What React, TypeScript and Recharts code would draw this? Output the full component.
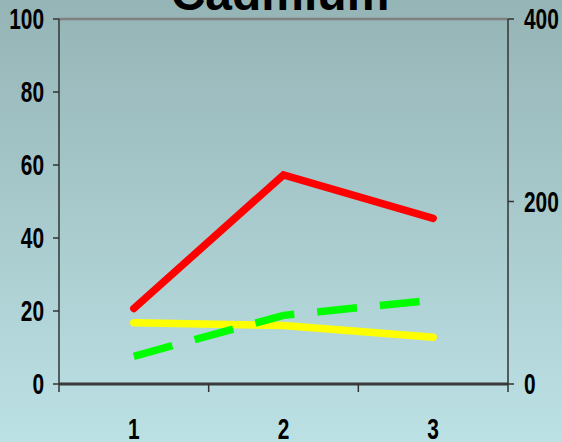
import React from "react";
import { LineChart, Line, XAxis, YAxis, ReferenceLine } from "recharts";

const categories = [1, 2, 3];
const red = [20.7, 57.3, 45.4];
const yellow = [16.8, 16, 12.8];
const green = [7.6, 18.8, 23];
const leftTicks = [0, 20, 40, 60, 80, 100];
const rightTicks = [0, 200, 400];
const xTicks = [0.5, 1, 1.5, 2, 2.5, 3, 3.5];

const data = categories.map((c, i) => ({
  cat: c,
  red: red[i],
  yellow: yellow[i],
  green: green[i],
}));

const font = "'Liberation Sans', Arial, sans-serif";

// condensed bold digits like the original
const Label = ({ x, y, anchor, value }: any) => (
  <g transform={`translate(${x},${y})`}>
    <text transform="scale(0.72,1)" textAnchor={anchor} dy="0.36em" fontFamily={font} fontWeight="bold" fontSize={29} fill="#000">
      {value}
    </text>
  </g>
);

const XTick = (props: any) => {
  const { x, y, payload } = props;
  const v = payload.value;
  if (Number.isInteger(v)) return <Label x={x} y={y + 45} anchor="middle" value={v} />;
  return <line x1={x} y1={y} x2={x} y2={y + 8} stroke="#333" strokeWidth={1.5} />;
};

const LeftTick = (props: any) => <Label x={props.x} y={props.y} anchor="end" value={props.payload.value} />;
const RightTick = (props: any) => <Label x={props.x} y={props.y} anchor="start" value={props.payload.value} />;

export default function App() {
  return (
    <div
      style={{
        position: "absolute",
        left: 0,
        top: 0,
        width: 562,
        height: 442,
        overflow: "hidden",
        background: "linear-gradient(to bottom, #95b4b6, #bce1e5)",
      }}
    >
      <svg width={562} height={442} style={{ position: "absolute", left: 0, top: 0 }}>
        <text x={280} y={10} textAnchor="middle" fontFamily={font} fontWeight="bold" fontSize={48} fill="#000">
          Cadmium
        </text>
      </svg>
      <div style={{ position: "absolute", left: 0, top: 0 }}>
        <LineChart width={562} height={442} data={data} margin={{ top: 19, right: 0, left: 0, bottom: 0 }}>
          <XAxis
            dataKey="cat"
            type="number"
            domain={[0.5, 3.5]}
            ticks={xTicks}
            interval={0}
            height={58}
            tickLine={false}
            tickSize={0}
            tickMargin={0}
            tick={<XTick />}
            axisLine={{ stroke: "#3a3a3a", strokeWidth: 3 }}
          />
          <YAxis
            yAxisId="left"
            type="number"
            domain={[0, 100]}
            ticks={leftTicks}
            interval={0}
            width={59}
            tickSize={6}
            tickMargin={9}
            tick={<LeftTick />}
            axisLine={{ stroke: "#333", strokeWidth: 1.5 }}
            tickLine={{ stroke: "#333", strokeWidth: 1.5 }}
          />
          <YAxis
            yAxisId="right"
            type="number"
            orientation="right"
            domain={[0, 400]}
            allowDataOverflow
            ticks={rightTicks}
            interval={0}
            width={54}
            tickSize={6}
            tickMargin={10}
            tick={<RightTick />}
            axisLine={{ stroke: "#333", strokeWidth: 1.5 }}
            tickLine={{ stroke: "#333", strokeWidth: 1.5 }}
          />
          <ReferenceLine yAxisId="right" y={400} stroke="#808080" strokeWidth={2.5} />
          <Line yAxisId="left" type="linear" dataKey="red" stroke="#ff0000" strokeWidth={7.5} strokeLinecap="round" dot={false} isAnimationActive={false} />
          <Line yAxisId="left" type="linear" dataKey="yellow" stroke="#ffff00" strokeWidth={7.5} strokeLinecap="round" dot={false} isAnimationActive={false} />
          <Line yAxisId="left" type="linear" dataKey="green" stroke="#00ff00" strokeWidth={7.5} strokeDasharray="40 23" strokeLinecap="butt" dot={false} isAnimationActive={false} />
        </LineChart>
      </div>
    </div>
  );
}
